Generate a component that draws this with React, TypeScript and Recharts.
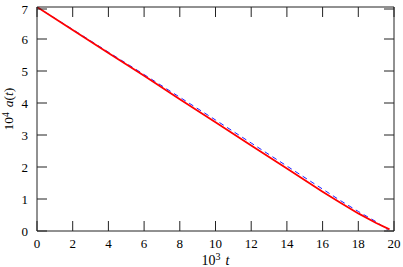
import React from 'react';
import { LineChart, Line, XAxis, YAxis, Label } from 'recharts';

// values (t in 10^3, a in 10^-4)
const redT = [0, 2, 4, 6, 8, 10, 12, 14, 16, 17, 18, 19, 19.75];
const redA = [7.0, 6.28, 5.56, 4.85, 4.12, 3.4, 2.67, 1.95, 1.23, 0.88, 0.55, 0.25, 0.05];
const blueT = [0, 2, 4, 6, 8, 10, 12, 14, 16, 17, 18, 19, 19.65];
const blueA = [7.0, 6.3, 5.59, 4.89, 4.18, 3.47, 2.75, 2.03, 1.31, 0.95, 0.61, 0.29, 0.03];
const xTicks = [0, 2, 4, 6, 8, 10, 12, 14, 16, 18, 20];
const yTicks = [0, 1, 2, 3, 4, 5, 6, 7];

const redData = redT.map((t, i) => ({ t, a: redA[i] }));
const blueData = blueT.map((t, i) => ({ t, a: blueA[i] }));

const FONT = "'Liberation Serif', 'DejaVu Serif', serif";
const TICK_LEN = 10;
const axisStroke = { stroke: '#222', strokeWidth: 1 };

// inward tick marks, drawn from the tick position the axis hands over
const BottomTick = (props: any) => {
  const { x, y, payload } = props;
  return (
    <g>
      <line x1={x} y1={y} x2={x} y2={y - TICK_LEN} stroke="#222" />
      <text x={x} y={y + 17} textAnchor="middle" fontFamily={FONT} fontSize={13} fill="#000">
        {payload.value}
      </text>
    </g>
  );
};

const TopTick = (props: any) => {
  const { x, y } = props;
  return <line x1={x} y1={y} x2={x} y2={y + TICK_LEN} stroke="#222" />;
};

const LeftTick = (props: any) => {
  const { x, y, payload } = props;
  return (
    <g>
      <line x1={x} y1={y} x2={x + TICK_LEN} y2={y} stroke="#222" />
      <text x={x - 9} y={y + 4.5} textAnchor="end" fontFamily={FONT} fontSize={13} fill="#000">
        {payload.value}
      </text>
    </g>
  );
};

const RightTick = (props: any) => {
  const { x, y } = props;
  return <line x1={x} y1={y} x2={x - TICK_LEN} y2={y} stroke="#222" />;
};

const XLabel = (props: any) => {
  const { x, y, width } = props.viewBox;
  const cx = x + width / 2;
  return (
    <text x={cx} y={y + 34} textAnchor="middle" fontFamily={FONT} fontSize={14} fill="#000">
      <tspan>10</tspan>
      <tspan dy={-5} fontSize={10}>3</tspan>
      <tspan dy={5} dx={5} fontStyle="italic">t</tspan>
    </text>
  );
};

const YLabel = (props: any) => {
  const { y } = props.viewBox;
  const cx = 12.5;
  const cy = y + 102;
  return (
    <text
      x={cx}
      y={cy}
      textAnchor="middle"
      fontFamily={FONT}
      fontSize={13.5}
      fill="#000"
      transform={`rotate(-90, ${cx}, ${cy})`}
    >
      <tspan>10</tspan>
      <tspan dy={-4} fontSize={9.5}>4</tspan>
      <tspan dy={4} dx={5} fontStyle="italic">a</tspan>
      <tspan>(</tspan>
      <tspan fontStyle="italic">t</tspan>
      <tspan>)</tspan>
    </text>
  );
};

export default function App() {
  return (
    <div style={{ position: 'absolute', left: 0, top: 0, background: '#fff', fontFamily: FONT }}>
      <LineChart width={403} height={267} margin={{ top: 6, right: 8, bottom: 0, left: 0 }}>
        <XAxis
          dataKey="t"
          type="number"
          domain={[0, 20]}
          ticks={xTicks}
          height={36}
          tickSize={0}
          tickMargin={0}
          tick={<BottomTick />}
          tickLine={false}
          axisLine={axisStroke}
          allowDataOverflow
        >
          <Label content={<XLabel />} />
        </XAxis>
        <XAxis
          xAxisId="top"
          orientation="top"
          dataKey="t"
          type="number"
          domain={[0, 20]}
          ticks={xTicks}
          height={1}
          tickSize={0}
          tickMargin={0}
          tick={<TopTick />}
          tickLine={false}
          axisLine={axisStroke}
          allowDataOverflow
        />
        <YAxis
          type="number"
          domain={[0, 7]}
          ticks={yTicks}
          width={37}
          tickSize={0}
          tickMargin={0}
          tick={<LeftTick />}
          tickLine={false}
          axisLine={axisStroke}
          allowDataOverflow
        >
          <Label content={<YLabel />} />
        </YAxis>
        <YAxis
          yAxisId="right"
          orientation="right"
          type="number"
          domain={[0, 7]}
          ticks={yTicks}
          width={1}
          tickSize={0}
          tickMargin={0}
          tick={<RightTick />}
          tickLine={false}
          axisLine={axisStroke}
          allowDataOverflow
        />
        <Line
          xAxisId="top"
          yAxisId="right"
          data={blueData}
          dataKey="a"
          type="linear"
          stroke="#2020ff"
          strokeWidth={1}
          strokeDasharray="5 4"
          dot={false}
          isAnimationActive={false}
        />
        <Line
          data={redData}
          dataKey="a"
          type="linear"
          stroke="#ff0000"
          strokeWidth={1.8}
          dot={false}
          isAnimationActive={false}
        />
      </LineChart>
    </div>
  );
}
